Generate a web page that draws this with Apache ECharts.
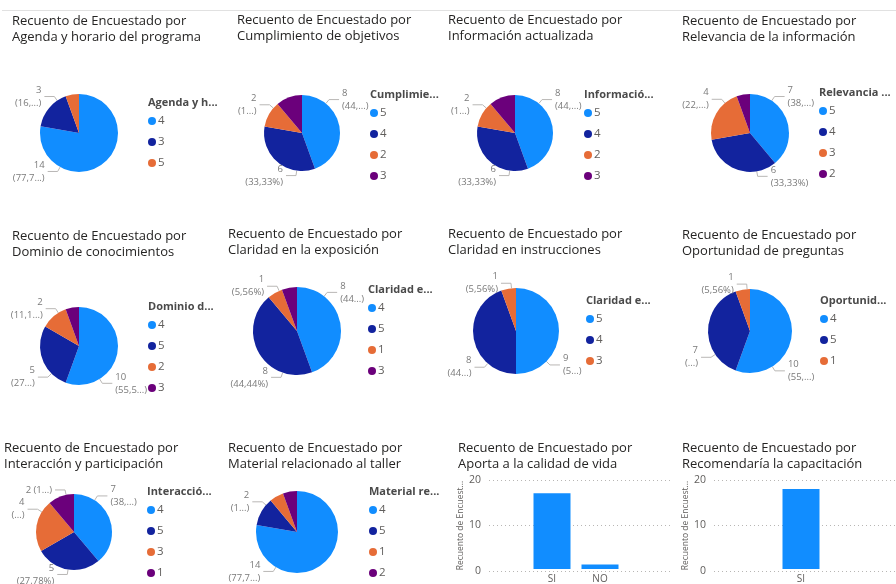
<!DOCTYPE html>
<html>
<head>
<meta charset="utf-8">
<script src="https://cdn.jsdelivr.net/npm/echarts@6/dist/echarts.min.js"></script>
<style>
  html, body { margin: 0; padding: 0; background: #fff; }
  #board { position: relative; width: 896px; height: 584px; overflow: hidden; background: #fff; }
  .rule { position: absolute; left: 2px; top: 10px; width: 894px; height: 1px; background: #e1e1e1; }
  .layer { position: absolute; left: 0; top: 0; width: 896px; height: 584px; }
</style>
</head>
<body>
<div id="board"><div class="rule"></div></div>
<script>
// ---- survey answers: categories (rating / answer) and respondent counts ----
const agendaCats = ['4', '3', '5'];
const agendaVals = [14, 3, 1];
const agendaPct = ['(77,7...)', '(16,...)', ''];

const cumplCats = ['5', '4', '2', '3'];
const cumplVals = [8, 6, 2, 2];
const cumplPct = ['(44,...)', '(33,33%)', '(1...)', ''];

const infoCats = ['5', '4', '2', '3'];
const infoVals = [8, 6, 2, 2];
const infoPct = ['(44,...)', '(33,33%)', '(1...)', ''];

const relevCats = ['5', '4', '3', '2'];
const relevVals = [7, 6, 4, 1];
const relevPct = ['(38,...)', '(33,33%)', '(22,...)', ''];

const dominioCats = ['4', '5', '2', '3'];
const dominioVals = [10, 5, 2, 1];
const dominioPct = ['(55,5...)', '(27...)', '(11,1...)', ''];

const exposCats = ['4', '5', '1', '3'];
const exposVals = [8, 8, 1, 1];
const exposPct = ['(44...)', '(44,44%)', '(5,56%)', ''];

const instrCats = ['5', '4', '3'];
const instrVals = [9, 8, 1];
const instrPct = ['(5...)', '(44...)', '(5,56%)'];

const pregCats = ['4', '5', '1'];
const pregVals = [10, 7, 1];
const pregPct = ['(55,...)', '(...)', '(5,56%)'];

const interCats = ['4', '5', '3', '1'];
const interVals = [7, 5, 4, 2];
const interPct = ['(38,...)', '(27,78%)', '(...)', '(1...)'];

const materialCats = ['4', '5', '1', '2'];
const materialVals = [14, 2, 1, 1];
const materialPct = ['(77,7...)', '(1...)', '', ''];

const calidadCats = ['SI', 'NO'];
const calidadVals = [17, 1];

const recomCats = ['SI'];
const recomVals = [18];

const countTicks = [0, 10, 20];

// ---- styling ----
const FONT = "'Open Sans', 'Noto Sans', sans-serif";
const PALETTE = ['#118DFF', '#12239E', '#E66C37', '#6B007B'];
const TITLE_STYLE = { fontFamily: FONT, fontSize: 13, fontWeight: 'normal', color: '#252423', lineHeight: 16 };

// Pie panels: placement of the plot, the legend and the leader-line angles (degrees, clockwise from 12 o'clock)
const pies = [
  { title: 'Recuento de Encuestado por\nAgenda y horario del programa', tx: 12, ty: 13,
    legendName: 'Agenda y h...', cats: agendaCats, vals: agendaVals, pct: agendaPct,
    cx: 79, cy: 133, r: 39, lx: 148, ly: 103, spots: [209, 326, null] },
  { title: 'Recuento de Encuestado por\nCumplimiento de objetivos', tx: 237, ty: 12,
    legendName: 'Cumplimie...', cats: cumplCats, vals: cumplVals, pct: cumplPct,
    cx: 302, cy: 133, r: 38, lx: 370, ly: 95, spots: [39, 188, 311, null] },
  { title: 'Recuento de Encuestado por\nInformación actualizada', tx: 448, ty: 12,
    legendName: 'Informació...', cats: infoCats, vals: infoVals, pct: infoPct,
    cx: 515, cy: 133, r: 38, lx: 584, ly: 95, spots: [39, 188, 311, null] },
  { title: 'Recuento de Encuestado por\nRelevancia de la información', tx: 682, ty: 13,
    legendName: 'Relevancia ...', cats: relevCats, vals: relevVals, pct: relevPct,
    cx: 750, cy: 133, r: 39, lx: 819, ly: 93, spots: [34, 170, 320, null] },
  { title: 'Recuento de Encuestado por\nDominio de conocimientos', tx: 12, ty: 228,
    legendName: 'Dominio d...', cats: dominioCats, vals: dominioVals, pct: dominioPct,
    cx: 79, cy: 346, r: 39, lx: 148, ly: 307, spots: [148, 225, 328, null] },
  { title: 'Recuento de Encuestado por\nClaridad en la exposición', tx: 228, ty: 226,
    legendName: 'Claridad e...', cats: exposCats, vals: exposVals, pct: exposPct,
    cx: 297, cy: 331, r: 44, lx: 368, ly: 290, spots: [38, 199, 336, null] },
  { title: 'Recuento de Encuestado por\nClaridad en instrucciones', tx: 448, ty: 226,
    legendName: 'Claridad e...', cats: instrCats, vals: instrVals, pct: instrPct,
    cx: 516, cy: 331, r: 43, lx: 586, ly: 301, spots: [135, 221, 354] },
  { title: 'Recuento de Encuestado por\nOportunidad de preguntas', tx: 682, ty: 227,
    legendName: 'Oportunid...', cats: pregCats, vals: pregVals, pct: pregPct,
    cx: 750, cy: 331, r: 42, lx: 820, ly: 301, spots: [148, 236, 356] },
  { title: 'Recuento de Encuestado por\nInteracción y participación', tx: 4, ty: 440,
    legendName: 'Interacció...', cats: interCats, vals: interVals, pct: interPct,
    cx: 74, cy: 532, r: 38, lx: 147, ly: 492, spots: [33, 189, 302, 348], inline: 3 },
  { title: 'Recuento de Encuestado por\nMaterial relacionado al taller', tx: 228, ty: 440,
    legendName: 'Material re...', cats: materialCats, vals: materialVals, pct: materialPct,
    cx: 297, cy: 532, r: 41, lx: 369, ly: 492, spots: [211, 311, null, null] }
];

// Bar panels
const bars = [
  { title: 'Recuento de Encuestado por\nAporta a la calidad de vida', tx: 458, ty: 440,
    cats: calidadCats, vals: calidadVals, axisLeft: 489, axisRight: 672, barsCenter: 576, nameGap: 22 },
  { title: 'Recuento de Encuestado por\nRecomendaría la capacitación', tx: 682, ty: 440,
    cats: recomCats, vals: recomVals, axisLeft: 714, axisRight: 896, barsCenter: 801, nameGap: 24 }
];

const board = document.getElementById('board');
function newLayer() {
  const d = document.createElement('div');
  d.className = 'layer';
  board.appendChild(d);
  return echarts.init(d, null, { renderer: 'canvas', width: 896, height: 584 });
}

// leader line: from the rim, out along the angle, then a short horizontal run to the text
function leaderLayout(p) {
  return function (params) {
    const a = p.spots[params.dataIndex];
    if (a == null) return {};
    const rad = a * Math.PI / 180;
    const sx = Math.sin(rad), sy = -Math.cos(rad);
    const rim = [p.cx + p.r * sx, p.cy + p.r * sy];
    const knee = [p.cx + (p.r + 5) * sx, p.cy + (p.r + 5) * sy];
    const dir = sx >= 0 ? 1 : -1;
    const end = [knee[0] + dir * 10, knee[1]];
    return {
      x: end[0] + dir * 3, y: end[1],
      align: dir > 0 ? 'left' : 'right', verticalAlign: 'middle',
      labelLinePoints: [rim, knee, end]
    };
  };
}

pies.forEach(function (p) {
  const chart = newLayer();
  const data = p.cats.map(function (c, i) {
    const shown = p.pct[i] !== '' && p.spots[i] != null;
    return {
      name: c, value: p.vals[i],
      itemStyle: { color: PALETTE[i] },
      label: { show: shown },
      labelLine: { show: shown }
    };
  });
  chart.setOption({
    animation: false,
    title: [
      { text: p.title, left: p.tx, top: p.ty, padding: 0, textStyle: TITLE_STYLE },
      { text: p.legendName, left: p.lx, top: p.ly - 7, padding: 0,
        textStyle: { fontFamily: FONT, fontSize: 11, fontWeight: 'bold', color: '#4a4a4a', lineHeight: 14 } }
    ],
    legend: {
      orient: 'vertical', left: p.lx, top: p.ly + 11, padding: 0,
      icon: 'circle', itemWidth: 8, itemHeight: 8, itemGap: 7,
      selectedMode: false,
      data: p.cats,
      textStyle: { fontFamily: FONT, fontSize: 11.5, color: '#605E5C', lineHeight: 14, padding: [0, 0, 0, -3] }
    },
    series: [{
      type: 'pie', silent: true,
      center: [p.cx, p.cy], radius: p.r,
      startAngle: 90, clockwise: true,
      avoidLabelOverlap: false,
      emphasis: { disabled: true },
      label: {
        position: 'outside',
        fontFamily: FONT, fontSize: 9.5, lineHeight: 13, color: '#7a7a7a',
        formatter: function (prm) {
          const sep = p.inline === prm.dataIndex ? ' ' : '\n';
          return prm.value + sep + p.pct[prm.dataIndex];
        }
      },
      labelLine: { show: true, length: 5, length2: 10, lineStyle: { color: '#b9b7b5', width: 1 } },
      labelLayout: leaderLayout(p),
      data: data
    }]
  });
});

bars.forEach(function (b) {
  const chart = newLayer();
  const yMin = countTicks[0], yMax = countTicks[countTicks.length - 1];
  const step = countTicks[1] - countTicks[0];
  const band = 48;
  const barsWidth = band * b.cats.length;
  chart.setOption({
    animation: false,
    title: [{ text: b.title, left: b.tx, top: b.ty, padding: 0, textStyle: TITLE_STYLE }],
    grid: [
      { left: b.axisLeft, top: 480, width: b.axisRight - b.axisLeft, height: 91 },
      { left: b.barsCenter - barsWidth / 2, top: 480, width: barsWidth, height: 91 }
    ],
    xAxis: [
      { gridIndex: 0, type: 'category', data: b.cats, show: false },
      { gridIndex: 1, type: 'category', data: b.cats,
        axisLine: { show: false }, axisTick: { show: false },
        axisLabel: { fontFamily: FONT, fontSize: 10, color: '#605E5C', margin: 5 } }
    ],
    yAxis: [
      { gridIndex: 0, type: 'value', min: yMin, max: yMax, interval: step,
        name: 'Recuento de Encuest...', nameLocation: 'middle', nameGap: b.nameGap, nameRotate: 90,
        nameTextStyle: { fontFamily: FONT, fontSize: 8.5, color: '#605E5C' },
        axisLine: { show: false }, axisTick: { show: false },
        axisLabel: { fontFamily: FONT, fontSize: 10.5, color: '#605E5C', margin: 8 },
        splitLine: { show: true, lineStyle: { type: [1, 3], color: '#b8b6b4', width: 1 } } },
      { gridIndex: 1, type: 'value', min: yMin, max: yMax, interval: step, show: false,
        splitLine: { show: false } }
    ],
    series: [{
      type: 'bar', silent: true, xAxisIndex: 1, yAxisIndex: 1,
      data: b.vals, barWidth: 37,
      itemStyle: { color: '#118DFF' }
    }]
  });
});
</script>
</body>
</html>
